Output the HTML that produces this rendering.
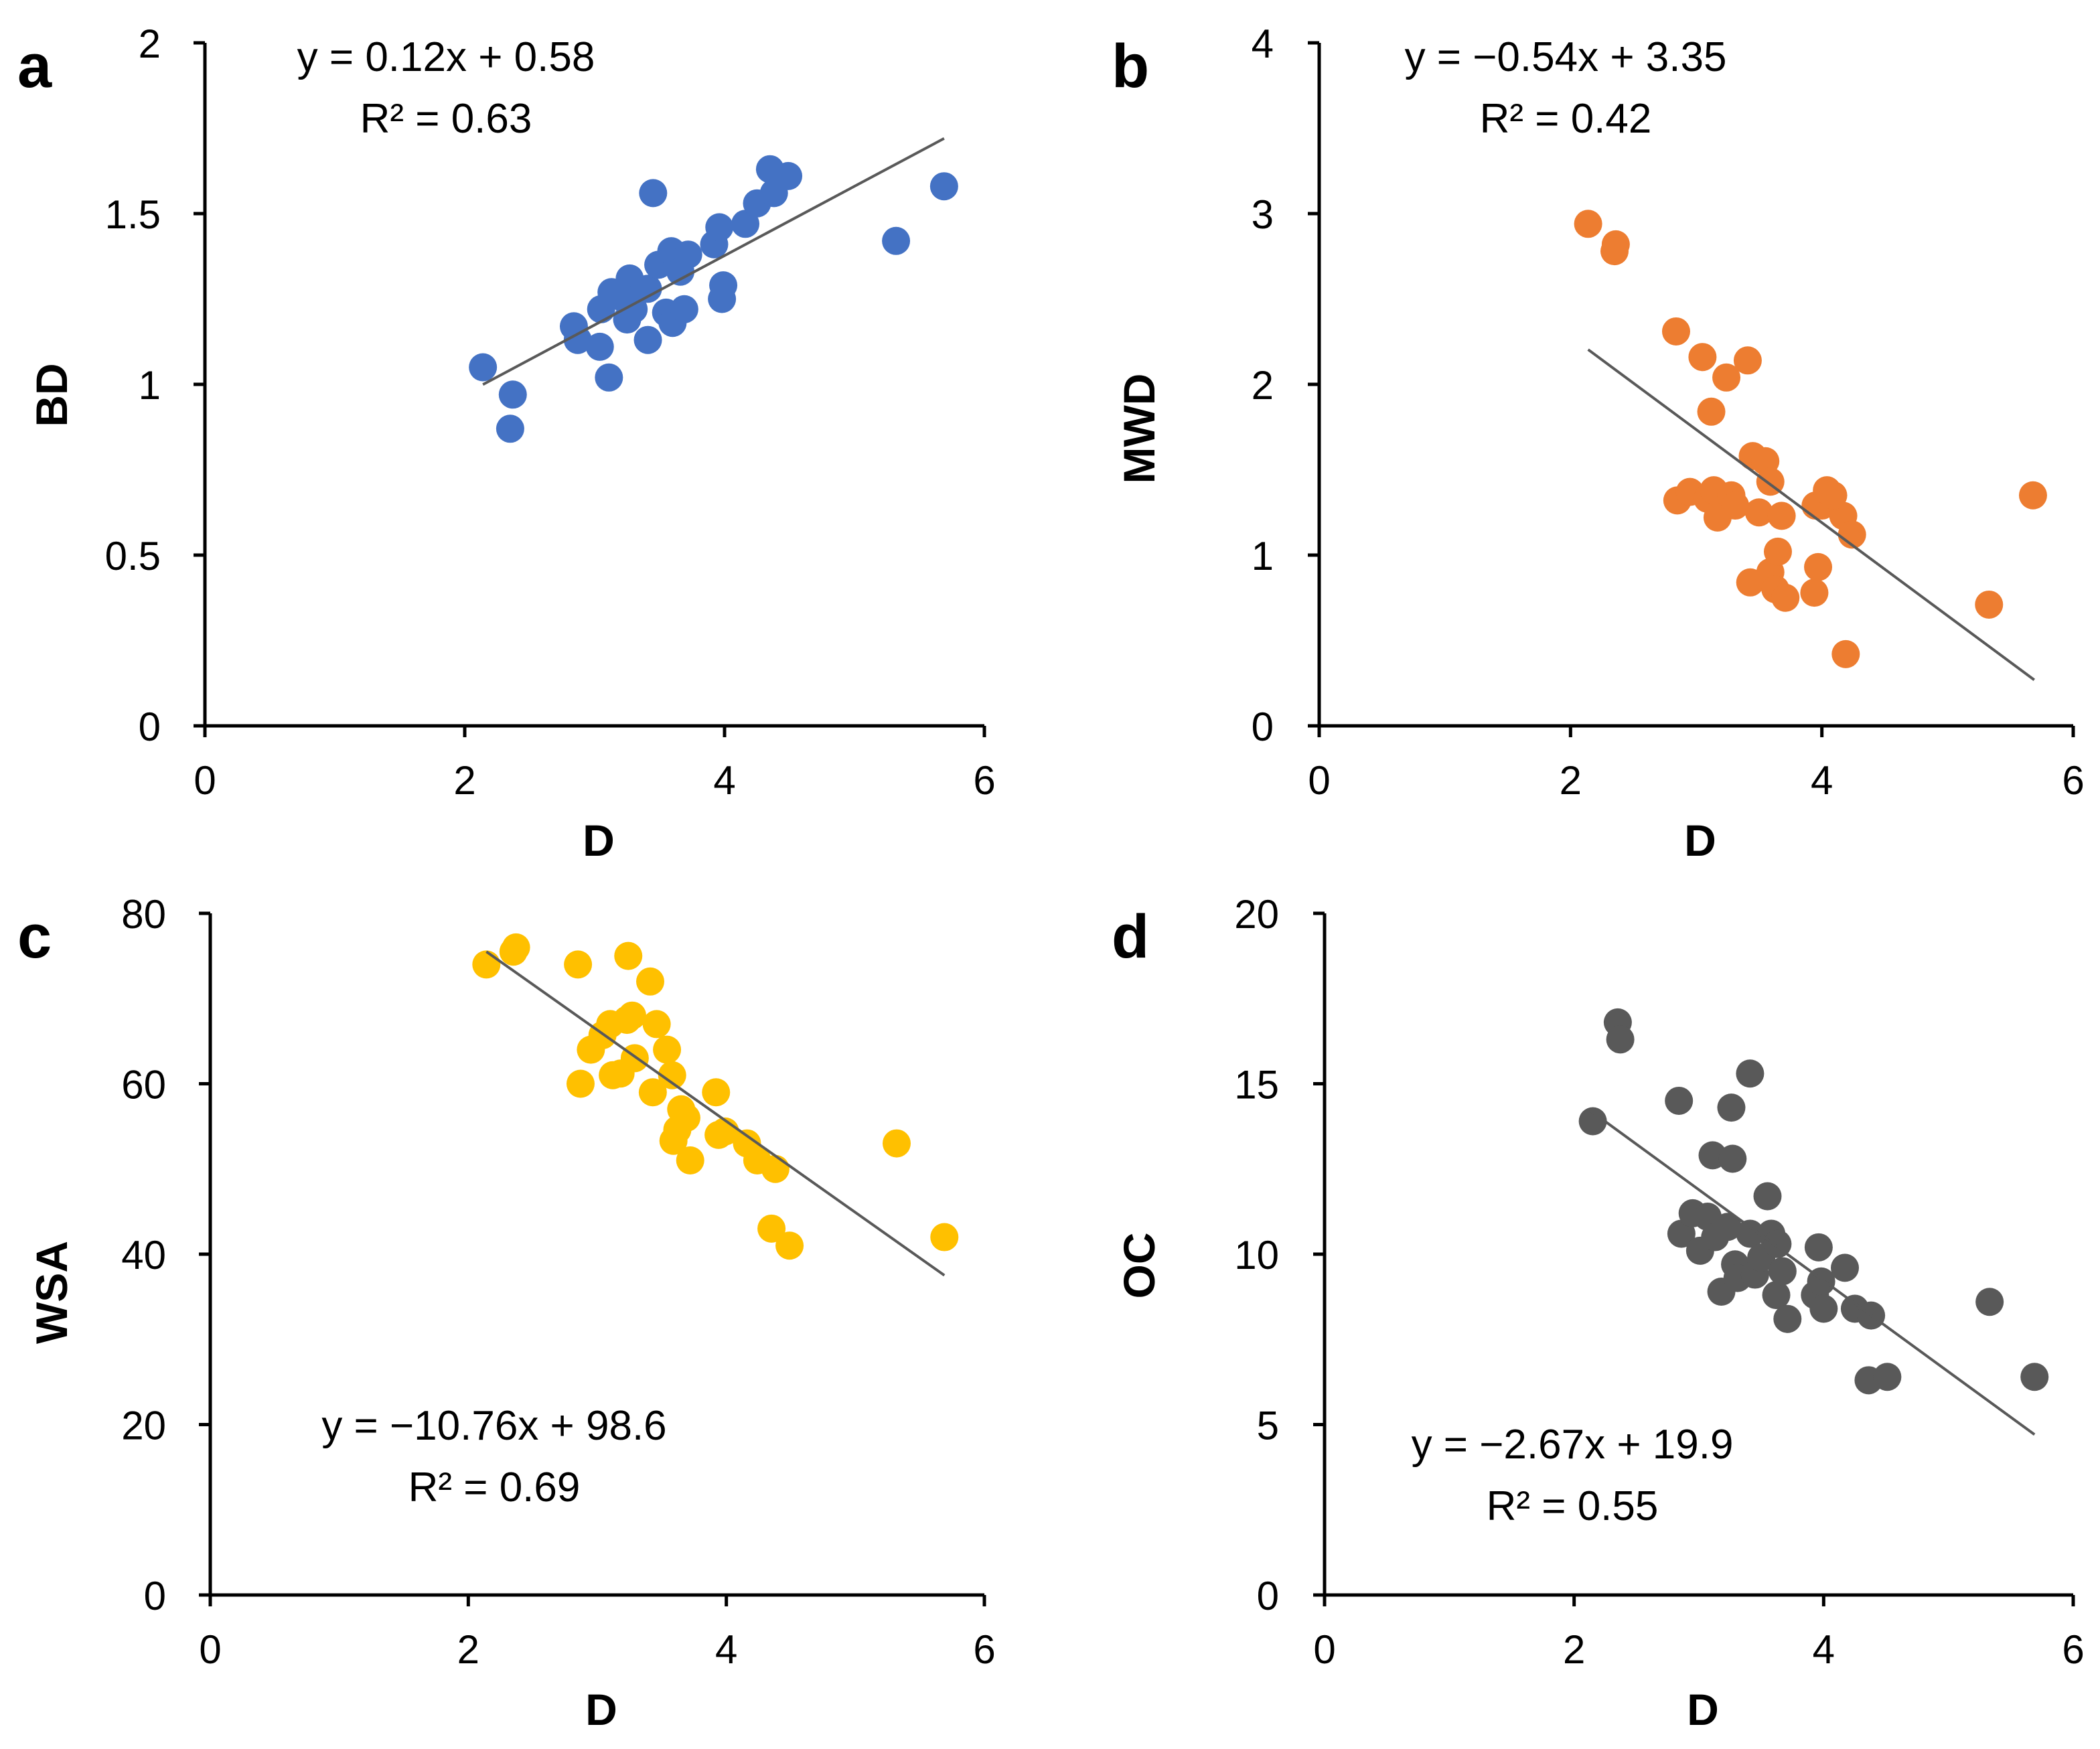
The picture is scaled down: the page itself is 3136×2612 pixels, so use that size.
<!DOCTYPE html>
<html><head><meta charset="utf-8"><style>
html,body{margin:0;padding:0;background:#fff;}
svg{display:block;font-family:"Liberation Sans",sans-serif;}
</style></head><body>
<svg id="chart" width="3136" height="2612" viewBox="0 0 3136 2612" xmlns="http://www.w3.org/2000/svg"></svg>
<script>
const dA=[2.14,2.37,2.35,2.84,2.87,3.04,3.11,3.05,3.13,3.27,3.23,3.25,3.3,3.41,3.45,3.41,3.49,3.59,3.66,3.72,3.55,3.6,3.69,3.92,3.96,3.98,3.99,4.16,4.25,4.35,4.38,4.49,5.32,5.69];
const bd=[1.05,0.97,0.87,1.17,1.13,1.11,1.02,1.22,1.27,1.31,1.25,1.19,1.22,1.13,1.56,1.28,1.35,1.39,1.33,1.38,1.21,1.18,1.22,1.41,1.46,1.25,1.29,1.47,1.53,1.63,1.56,1.61,1.42,1.58];
const dB=[2.14,2.36,2.35,2.84,2.85,2.95,3.05,3.12,3.09,3.14,3.17,3.24,3.28,3.31,3.41,3.43,3.45,3.5,3.55,3.59,3.59,3.63,3.65,3.68,3.71,3.94,3.95,3.97,4.0,4.17,4.24,4.04,4.09,4.19,5.33,5.68];
const mwd=[2.94,2.82,2.78,2.31,1.32,1.37,2.16,1.84,1.33,1.38,1.22,2.04,1.35,1.29,2.14,0.84,1.58,1.25,1.55,1.43,0.9,0.8,1.02,1.23,0.75,0.78,1.29,0.93,1.29,1.23,1.12,1.38,1.35,0.42,0.71,1.35];
const dC=[2.14,2.37,2.35,2.85,2.87,2.95,3.04,3.1,3.12,3.18,3.23,3.27,3.24,3.29,3.41,3.43,3.46,3.54,3.58,3.59,3.62,3.65,3.69,3.72,3.92,3.94,3.99,4.16,4.24,4.38,4.35,4.49,5.32,5.69];
const wsa=[74,76,75.5,74,60,64,65.7,67,61,61.2,67.5,68,75,63,72,59,67,64,61,53.3,54.6,57,56,51,59,54,54.4,53,51,50,43,41,53,42];
const dD=[2.15,2.35,2.37,2.84,2.86,2.95,3.01,3.07,3.11,3.13,3.18,3.23,3.26,3.27,3.29,3.31,3.41,3.41,3.45,3.5,3.55,3.58,3.62,3.63,3.67,3.71,3.93,3.96,3.98,4.0,4.17,4.25,4.38,4.36,4.51,5.33,5.69];
const oc=[13.9,16.8,16.3,14.5,10.6,11.2,10.1,11.1,12.9,10.5,8.9,10.8,14.3,12.8,9.7,9.3,10.6,15.3,9.4,9.9,11.7,10.6,8.8,10.3,9.5,8.1,8.8,10.2,9.2,8.4,9.6,8.4,8.2,6.3,6.4,8.6,6.4];
const xTicks=[0,2,4,6];
const ticksA=[0,0.5,1,1.5,2], ticksB=[0,1,2,3,4], ticksC=[0,20,40,60,80], ticksD=[0,5,10,15,20];
const trendSlope=[0.203,-0.545,-10.7,-2.67];
const trendIntercept=[0.565,3.37,98.4,19.9];
const trendRange=[2.14,5.69];
const NS="http://www.w3.org/2000/svg";
const svg=document.getElementById('chart');
function mk(tag,attrs,parent){const e=document.createElementNS(NS,tag);for(const k in attrs)e.setAttribute(k,attrs[k]);(parent||svg).appendChild(e);return e;}
const panels=[
 {id:'a',x0:306,x1:1470,y0:1084,y1:64,ymax:2,yt:ticksA,xs:dA,ys:bd,col:'#4472C4',yl:'BD',ylx:78,yly:590,ytx:240,lx:26,ly:130,eq:['y = 0.12x + 0.58','0.63'],ex:666,ey:106},
 {id:'b',x0:1970,x1:3096,y0:1084,y1:64,ymax:4,yt:ticksB,xs:dB,ys:mwd,col:'#ED7D31',yl:'MWD',ylx:1702,yly:640,ytx:1902,lx:1660,ly:130,eq:['y = \u22120.54x + 3.35','0.42'],ex:2338,ey:106},
 {id:'c',x0:314,x1:1470,y0:2382,y1:1364,ymax:80,yt:ticksC,xs:dC,ys:wsa,col:'#FFC000',yl:'WSA',ylx:78,yly:1930,ytx:248,lx:26,ly:1430,eq:['y = \u221210.76x + 98.6','0.69'],ex:738,ey:2150},
 {id:'d',x0:1978,x1:3096,y0:2382,y1:1364,ymax:20,yt:ticksD,xs:dD,ys:oc,col:'#595959',yl:'OC',ylx:1702,yly:1890,ytx:1910,lx:1660,ly:1430,eq:['y = \u22122.67x + 19.9','0.55'],ex:2348,ey:2178}
];
panels.forEach((p,i)=>{
 const g=mk('g',{});
 
 
 const X=v=>p.x0+(v/6)*(p.x1-p.x0);
 const Y=v=>p.y0-(v/p.ymax)*(p.y0-p.y1);
 const ya=mk('line',{x1:p.x0,y1:p.y1,x2:p.x0,y2:p.y0,stroke:'#000','stroke-width':5},g);
 
 
 const xa=mk('line',{x1:p.x0,y1:p.y0,x2:p.x1,y2:p.y0,stroke:'#000','stroke-width':5},g);
 
 
 p.yt.forEach(t=>{
  mk('line',{x1:p.x0-17,y1:Y(t),x2:p.x0,y2:Y(t),stroke:'#000','stroke-width':5},g);
  const tx=mk('text',{x:p.ytx,y:Y(t)+22,'text-anchor':'end','font-size':60},g);
  tx.textContent=t;
  
  
 });
 xTicks.forEach(t=>{
  mk('line',{x1:X(t),y1:p.y0,x2:X(t),y2:p.y0+17,stroke:'#000','stroke-width':5},g);
  const tx=mk('text',{x:X(t),y:p.y0+102,'text-anchor':'middle','font-size':60},g);
  tx.textContent=t;
  
  
 });
 p.xs.forEach((v,k)=>{
  const c=mk('circle',{cx:X(v),cy:Y(p.ys[k]),r:21,fill:p.col},g);
  
  
 });
 const tl=mk('line',{x1:X(trendRange[0]),y1:Y(trendSlope[i]*trendRange[0]+trendIntercept[i]),x2:X(trendRange[1]),y2:Y(trendSlope[i]*trendRange[1]+trendIntercept[i]),stroke:'#595959','stroke-width':4},g);
 
 
 const xt=mk('text',{x:(p.x0+p.x1)/2+6,y:p.y0+194,'text-anchor':'middle','font-size':66,'font-weight':'bold'},g);
 xt.textContent='D';
 
 
 const yt=mk('text',{x:p.ylx,y:p.yly,'text-anchor':'middle','font-size':66,'font-weight':'bold',transform:`rotate(-90 ${p.ylx} ${p.yly}) translate(0 22)`},g);
 yt.textContent=p.yl;
 
 
 const lt=mk('text',{x:p.lx,y:p.ly,'font-size':92,'font-weight':'bold'},g);
 lt.textContent=p.id;
 
 
 const e1=mk('text',{x:p.ex,y:p.ey,'text-anchor':'middle','font-size':62},g);
 e1.textContent=p.eq[0];
 
 
 const e2=mk('text',{x:p.ex,y:p.ey+92,'text-anchor':'middle','font-size':62},g);
 e2.textContent='R\u00B2 = '+p.eq[1];
 
 
});
</script>
</body></html>
